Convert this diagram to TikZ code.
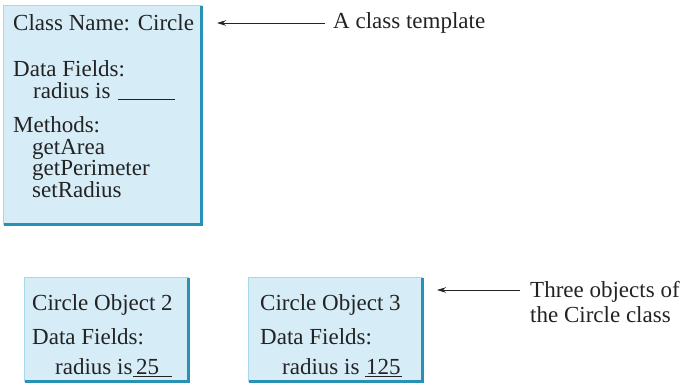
\documentclass[tikz,border=0pt]{standalone}
\usepackage{fontspec}
\setmainfont{Liberation Serif}
\usetikzlibrary{arrows.meta}
\definecolor{boxfill}{RGB}{214,237,248}
\definecolor{boxedge}{RGB}{170,214,234}
\definecolor{boxshadow}{RGB}{40,146,182}
\definecolor{ink}{RGB}{35,35,35}
\tikzset{
  box/.style={draw=boxedge, fill=boxfill, line width=0.8pt, anchor=north west, inner sep=0pt},
  shade/.style={draw=boxshadow, line width=3pt},
  txt/.style={anchor=base west, inner sep=0pt, text=ink, align=left, font=\fontsize{23}{21.5}\selectfont},
  arr/.style={draw=ink, line width=1pt, -{Stealth[length=9pt,width=5.5pt]}},
  uline/.style={draw=ink, line width=1pt}
}
\begin{document}
\begin{tikzpicture}[x=1pt,y=-1pt]
\useasboundingbox (0,0) rectangle (691,384);
% class box
\node[box, minimum width=198pt, minimum height=219pt] (box1) at (3,5) {};
\draw[shade] (box1.north east) ++(0,1) -- (box1.south east) -- ([xshift=1pt]box1.south west);
\node[txt] (cn) at (13,30) {Class Name: Circle};
% multi-line nodes: base anchor is the last line's baseline
\node[txt] (df1) at (13,98) {Data Fields:\\\hspace*{20pt}radius is};
\coordinate (u1a) at (118,99); \coordinate (u1b) at (175,99);
\draw[uline] (u1a) -- (u1b);
\node[txt] (mt) at (13,197) {Methods:\\\hspace*{19pt}getArea\\\hspace*{19pt}getPerimeter\\\hspace*{19pt}setRadius};
% label 1
\node[txt] (lab1) at (333,28) {A class template};
\coordinate (a1tail) at (325,23); \coordinate (a1tip) at (217,23);
\draw[arr] (a1tail) -- (a1tip);
% object 2
\node[box, minimum width=164pt, minimum height=104pt] (box2) at (24,277) {};
\draw[shade] (box2.north east) ++(0,1) -- (box2.south east) -- ([xshift=1pt]box2.south west);
\node[txt] (o2) at (32,310) {Circle Object 2};
\node[txt] (df2) at (32,344) {Data Fields:};
\node[txt] (r2) at (55,374) {radius is};
\node[txt] (v2) at (136,374) {25};
\coordinate (u2a) at (133,376); \coordinate (u2b) at (172,376);
\draw[uline] (u2a) -- (u2b);
% object 3
\node[box, minimum width=174pt, minimum height=104pt] (box3) at (248,277) {};
\draw[shade] (box3.north east) ++(0,1) -- (box3.south east) -- ([xshift=1pt]box3.south west);
\node[txt] (o3) at (260,310) {Circle Object 3};
\node[txt] (df3) at (260,344) {Data Fields:};
\node[txt] (r3) at (282,374) {radius is};
\node[txt] (v3) at (366,374) {125};
\coordinate (u3a) at (365,376); \coordinate (u3b) at (402,376);
\draw[uline] (u3a) -- (u3b);
% label 2
\node[txt, font=\fontsize{23}{25}\selectfont] (lab2) at (530,322) {Three objects of\\the Circle class};
\coordinate (a2tail) at (520,290); \coordinate (a2tip) at (437,290);
\draw[arr] (a2tail) -- (a2tip);
\end{tikzpicture}
\end{document}
